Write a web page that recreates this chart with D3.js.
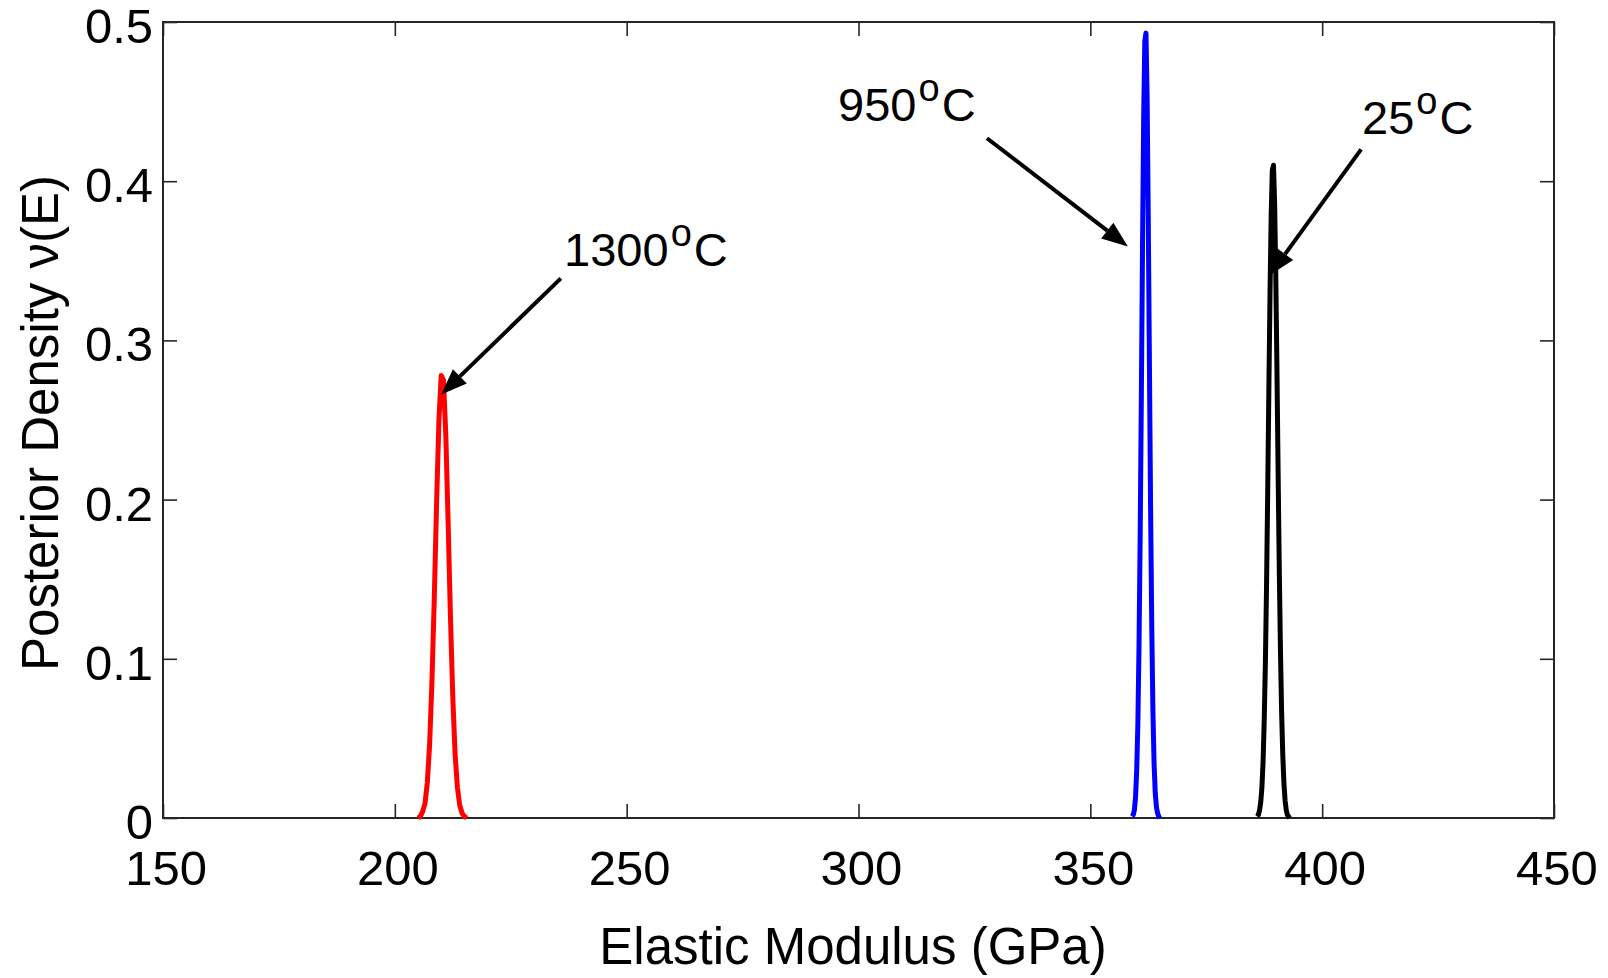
<!DOCTYPE html>
<html>
<head>
<meta charset="utf-8">
<script src="https://cdn.jsdelivr.net/npm/d3@7"></script>
<style>
  body { margin: 0; background: #fff; }
  text { font-family: "Liberation Sans", Arial, Helvetica, sans-serif; fill: #000; }
</style>
</head>
<body>
<div id="chart"></div>
<script>
var width = 1608, height = 978;
var margin = {top: 22, right: 54, bottom: 160, left: 163};
var plotW = width - margin.left - margin.right;
var plotH = height - margin.top - margin.bottom;

// posterior density curves
var redE = [205, 205.5, 206, 206.5, 207, 207.5, 208, 208.5, 209, 209.5, 210, 210.5, 211, 211.5, 212, 212.5, 213, 213.5, 214, 214.5, 215, 215.5];
var redD = [0.000, 0.001, 0.004, 0.009, 0.022, 0.046, 0.085, 0.137, 0.197, 0.249, 0.278, 0.275, 0.240, 0.185, 0.126, 0.076, 0.040, 0.019, 0.008, 0.003, 0.001, 0.000];

var blueE = [359, 359.25, 359.5, 359.75, 360, 360.25, 360.5, 360.75, 361, 361.25, 361.5, 361.75, 362, 362.25, 362.5, 362.75, 363, 363.25, 363.5, 363.75, 364, 364.25, 364.5, 364.75, 365];
var blueD = [0.001, 0.002, 0.005, 0.013, 0.030, 0.059, 0.108, 0.177, 0.264, 0.357, 0.439, 0.488, 0.493, 0.452, 0.375, 0.283, 0.193, 0.120, 0.067, 0.034, 0.016, 0.007, 0.003, 0.001, 0.000];

var blackE = [386, 386.25, 386.5, 386.75, 387, 387.25, 387.5, 387.75, 388, 388.25, 388.5, 388.75, 389, 389.25, 389.5, 389.75, 390, 390.25, 390.5, 390.75, 391, 391.25, 391.5, 391.75, 392, 392.25, 392.5, 392.75, 393];
var blackD = [0.001, 0.002, 0.005, 0.010, 0.019, 0.035, 0.061, 0.097, 0.145, 0.204, 0.268, 0.329, 0.378, 0.407, 0.410, 0.386, 0.340, 0.281, 0.217, 0.156, 0.106, 0.067, 0.040, 0.022, 0.011, 0.005, 0.002, 0.001, 0.000];

var xTicks = [150, 200, 250, 300, 350, 400, 450];
var yTicks = [0, 0.1, 0.2, 0.3, 0.4, 0.5];

// annotations: label, text anchor (E, density), arrow from -> to
var annLabels = ["1300", "950", "25"];
var annText = [[236.5, 0.347], [295.6, 0.4378], [408.6, 0.4296]];
var annFrom = [[235.8, 0.339], [327.7, 0.427], [408.4, 0.420]];
var annTo = [[210.0, 0.266], [358.1, 0.359], [388.7, 0.341]];

var svg = d3.select("#chart").append("svg")
	.attr("width", width)
	.attr("height", height);

var g = svg.append("g")
	.attr("transform", "translate(" + margin.left + "," + margin.top + ")");

var x = d3.scaleLinear().domain([150, 450]).range([0, plotW]);
var y = d3.scaleLinear().domain([0, 0.5]).range([plotH, 0]);

// box with inward ticks on all four sides
var tickLen = 14;
var axisColor = "#262626";

function styleAxis(sel)
{
	sel.select(".domain").remove();
	sel.selectAll(".tick line").attr("stroke", axisColor).attr("stroke-width", 1.6);
}

g.append("g")
	.attr("transform", "translate(0," + plotH + ")")
	.call(d3.axisBottom(x).tickValues(xTicks).tickSize(-tickLen).tickFormat(""))
	.call(styleAxis);
g.append("g")
	.call(d3.axisTop(x).tickValues(xTicks).tickSize(-tickLen).tickFormat(""))
	.call(styleAxis);
g.append("g")
	.call(d3.axisLeft(y).tickValues(yTicks).tickSize(-tickLen).tickFormat(""))
	.call(styleAxis);
g.append("g")
	.attr("transform", "translate(" + plotW + ",0)")
	.call(d3.axisRight(y).tickValues(yTicks).tickSize(-tickLen).tickFormat(""))
	.call(styleAxis);

g.append("rect")
	.attr("x", 0)
	.attr("y", 0)
	.attr("width", plotW)
	.attr("height", plotH)
	.attr("fill", "none")
	.attr("stroke", axisColor)
	.attr("stroke-width", 2);

// tick labels
g.selectAll(".xlab")
	.data(xTicks)
	.enter()
	.append("text")
	.attr("x", function (d) { return x(d) + 3; })
	.attr("y", plotH + 67)
	.attr("text-anchor", "middle")
	.style("font-size", "49px")
	.text(function (d) { return d; });

g.selectAll(".ylab")
	.data(yTicks)
	.enter()
	.append("text")
	.attr("x", -10)
	.attr("y", function (d) { return y(d) + 21; })
	.attr("text-anchor", "end")
	.style("font-size", "49px")
	.text(function (d) { return d === 0 ? "0" : d.toFixed(1); });

// axis titles
svg.append("text")
	.attr("x", 853)
	.attr("y", 964)
	.attr("text-anchor", "middle")
	.style("font-size", "51px")
	.text("Elastic Modulus (GPa)");

svg.append("text")
	.attr("transform", "translate(58," + (margin.top + plotH / 2 + 3) + ") rotate(-90)")
	.attr("text-anchor", "middle")
	.style("font-size", "51px")
	.text("Posterior Density  \u03bd(E)");

// curves
var curves = [
	{E: redE, D: redD, color: "#ff0000"},
	{E: blueE, D: blueD, color: "#0000ff"},
	{E: blackE, D: blackD, color: "#000000"}
];

var line = d3.line()
	.x(function (d) { return x(d[0]); })
	.y(function (d) { return y(d[1]); });

g.selectAll(".curve")
	.data(curves)
	.enter()
	.append("path")
	.attr("class", "curve")
	.attr("d", function (c) { return line(d3.zip(c.E, c.D)); })
	.attr("fill", "none")
	.attr("stroke", function (c) { return c.color; })
	.attr("stroke-width", 5)
	.attr("stroke-linejoin", "round");

// annotations
for (var i = 0; i < annLabels.length; i++)
{
	var t = g.append("text")
		.attr("x", x(annText[i][0]))
		.attr("y", y(annText[i][1]))
		.style("font-size", "47px");
	t.append("tspan").text(annLabels[i]);
	t.append("tspan").attr("dx", 2).attr("dy", -20).style("font-size", "38px").text("o");
	t.append("tspan").attr("dx", 2).attr("dy", 20).text("C");

	var x0 = x(annFrom[i][0]), y0 = y(annFrom[i][1]);
	var x1 = x(annTo[i][0]), y1 = y(annTo[i][1]);
	var ang = Math.atan2(y1 - y0, x1 - x0);
	var headLen = 26, headHalf = 10;
	var bx = x1 - headLen * Math.cos(ang), by = y1 - headLen * Math.sin(ang);

	g.append("line")
		.attr("x1", x0).attr("y1", y0)
		.attr("x2", bx).attr("y2", by)
		.attr("stroke", "#000")
		.attr("stroke-width", 4);

	var px = -Math.sin(ang), py = Math.cos(ang);
	g.append("path")
		.attr("d", "M" + x1 + "," + y1 +
			"L" + (bx + headHalf * px) + "," + (by + headHalf * py) +
			"L" + (bx - headHalf * px) + "," + (by - headHalf * py) + "Z")
		.attr("fill", "#000");
}
</script>
</body>
</html>
